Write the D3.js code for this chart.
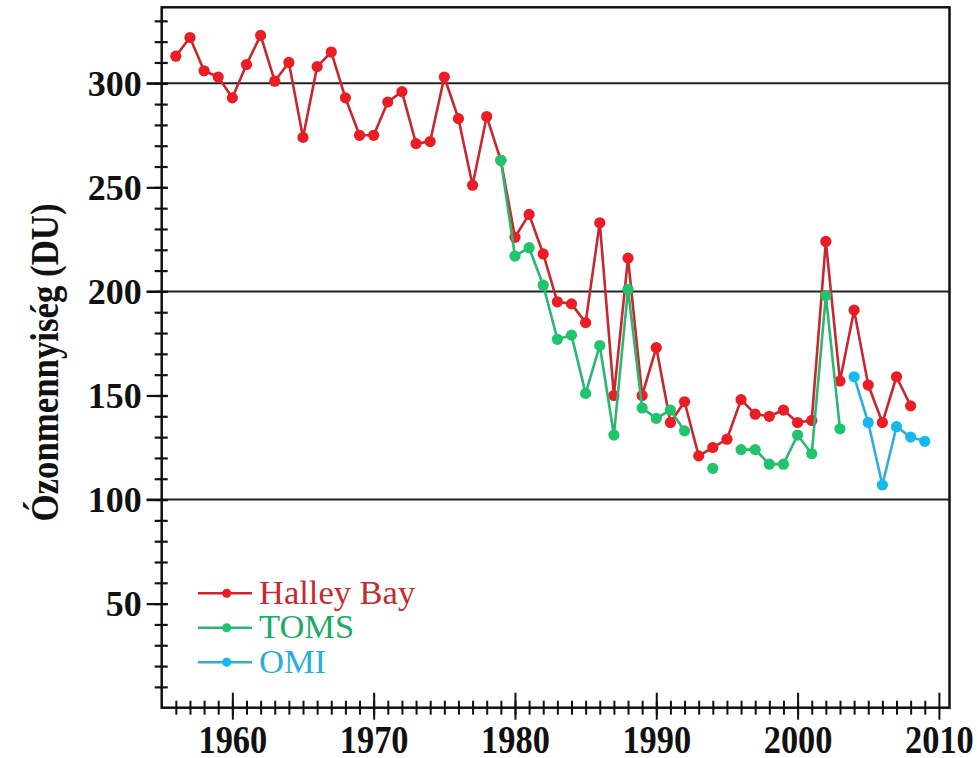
<!DOCTYPE html>
<html>
<head>
<meta charset="utf-8">
<script src="https://cdn.jsdelivr.net/npm/d3@7"></script>
<style>
  body { margin: 0; background: #fff; }
  svg { display: block; }
</style>
</head>
<body>
<script>
// Ozone over Halley Bay, with TOMS and OMI satellite values

const width = 978, height = 758;

// years and values (null = no value that year)
const halleyYears = d3.range(1956, 2009);
const halleyValues = [313, 322, 306, 303, 293, 309, 323, 301, 310, 274,
                      308, 315, 293, 275, 275, 291, 296, 271, 272, 303,
                      283, 251, 284, 263, 226, 237, 218, 195, 194, 185,
                      233, 150, 216, 150, 173, 137, 147, 121, 125, 129,
                      148, 141, 140, 143, 137, 138, 224, 157, 191, 155,
                      137, 159, 145];

const tomsYears = d3.range(1979, 2004);
const tomsValues = [263, 217, 221, 203, 177, 179, 151, 174, 131, 201,
                    144, 139, 143, 133, null, 115, null, 124, 124, 117,
                    117, 131, 122, 198, 134];

const omiYears = d3.range(2004, 2010);
const omiValues = [159, 137, 107, 135, 130, 128];

const yMajorTicks = [50, 100, 150, 200, 250, 300];
const yGridTicks = [100, 200, 300];
const xMajorTicks = [1960, 1970, 1980, 1990, 2000, 2010];

const seriesNames = ["Halley Bay", "TOMS", "OMI"];

// plot box
const boxLeft = 161.7, boxRight = 949.5, boxTop = 7.3, boxBottom = 707.7;

const x = d3.scaleLinear().domain([1955, 2010.75]).range([boxLeft, boxRight]);
const y = d3.scaleLinear().domain([0, 336.5]).range([boxBottom, boxTop]);

const svg = d3.select("body").append("svg")
    .attr("width", width)
    .attr("height", height);

// grid lines at 100, 200, 300
svg.append("g").selectAll("line")
  .data(yGridTicks)
  .join("line")
    .attr("x1", boxLeft - 15)
    .attr("x2", boxRight)
    .attr("y1", d => y(d))
    .attr("y2", d => y(d))
    .attr("stroke", "#222")
    .attr("stroke-width", 2);

// frame
svg.append("rect")
    .attr("x", boxLeft).attr("y", boxTop)
    .attr("width", boxRight - boxLeft).attr("height", boxBottom - boxTop)
    .attr("fill", "none")
    .attr("stroke", "#111")
    .attr("stroke-width", 2.5);

// y axis: minor ticks every 10, major every 50
const yAxisMinor = svg.append("g")
    .attr("transform", "translate(" + boxLeft + ",0)")
    .call(d3.axisLeft(y).tickValues(d3.range(10, 331, 10)).tickSize(7).tickFormat(""));
yAxisMinor.select(".domain").remove();
yAxisMinor.selectAll(".tick line").attr("x2", -7).attr("x1", 6)
    .attr("stroke", "#111").attr("stroke-width", 2.2);

const yAxisMajor = svg.append("g")
    .attr("transform", "translate(" + boxLeft + ",0)")
    .call(d3.axisLeft(y).tickValues(yMajorTicks).tickSize(15).tickPadding(5));
yAxisMajor.select(".domain").remove();
yAxisMajor.selectAll(".tick line").attr("x1", 6)
    .attr("stroke", "#111").attr("stroke-width", 2.2);
yAxisMajor.selectAll(".tick text")
    .attr("fill", "#111")
    .style("font-family", "'Liberation Serif', 'Times New Roman', serif")
    .style("font-weight", "bold")
    .style("font-size", "36px")
    .attr("dy", "0.34em");

// x axis: minor ticks every year, major every 10
const xAxisMinor = svg.append("g")
    .attr("transform", "translate(0," + boxBottom + ")")
    .call(d3.axisBottom(x).tickValues(d3.range(1956, 2010)).tickSize(7).tickFormat(""));
xAxisMinor.select(".domain").remove();
xAxisMinor.selectAll(".tick line").attr("y1", -7)
    .attr("stroke", "#111").attr("stroke-width", 2);

const xAxisMajor = svg.append("g")
    .attr("transform", "translate(0," + boxBottom + ")")
    .call(d3.axisBottom(x).tickValues(xMajorTicks).tickSize(12).tickFormat(d3.format("d")));
xAxisMajor.select(".domain").remove();
xAxisMajor.selectAll(".tick line").attr("y1", -15)
    .attr("stroke", "#111").attr("stroke-width", 2);
xAxisMajor.selectAll(".tick text")
    .attr("y", 0).attr("dy", 0)
    .attr("fill", "#111")
    .attr("transform", "translate(0,45.5) scale(0.86,1)")
    .style("font-family", "'Liberation Serif', 'Times New Roman', serif")
    .style("font-weight", "bold")
    .style("font-size", "40px");

// y axis title
svg.append("text")
    .attr("transform", "translate(58," + ((boxTop + boxBottom) / 2 + 5) + ") rotate(-90) scale(0.87,1)")
    .attr("text-anchor", "middle")
    .attr("fill", "#111")
    .style("font-family", "'Liberation Serif', 'Times New Roman', serif")
    .style("font-weight", "bold")
    .style("font-size", "40px")
    .text("Ózonmennyiség (DU)");

// series
const series = [
  {name: seriesNames[0], years: halleyYears, values: halleyValues, line: "#c8272d", dot: "#ec1c24", text: "#c62a30"},
  {name: seriesNames[1], years: tomsYears, values: tomsValues, line: "#2bb673", dot: "#1fc46c", text: "#20a866"},
  {name: seriesNames[2], years: omiYears, values: omiValues, line: "#2eaedb", dot: "#16b9ee", text: "#27aedd"}
];

const line = d3.line()
    .defined(d => d[1] != null)
    .x(d => x(d[0]))
    .y(d => y(d[1]));

series.forEach(s => {
  const pts = s.years.map((yr, i) => [yr, s.values[i]]);
  const g = svg.append("g");
  g.append("path")
      .datum(pts)
      .attr("d", line)
      .attr("fill", "none")
      .attr("stroke", s.line)
      .attr("stroke-width", 2.6)
      .attr("stroke-linejoin", "round");
  g.selectAll("circle")
    .data(pts.filter(d => d[1] != null))
    .join("circle")
      .attr("cx", d => x(d[0]))
      .attr("cy", d => y(d[1]))
      .attr("r", 5.6)
      .attr("fill", s.dot);
});

// legend
const legend = svg.append("g").selectAll("g")
  .data(series)
  .join("g")
    .attr("transform", (d, i) => "translate(0," + (593.3 + i * 34.5) + ")");

legend.append("line")
    .attr("x1", 198).attr("x2", 252)
    .attr("stroke", d => d.line)
    .attr("stroke-width", 2.6);

legend.append("circle")
    .attr("cx", 226.7).attr("r", 4.5)
    .attr("fill", d => d.dot);

legend.append("text")
    .attr("x", 259)
    .attr("y", 10.5)
    .attr("fill", d => d.text)
    .style("font-family", "'Liberation Serif', 'Times New Roman', serif")
    .style("font-size", "34.5px")
    .text(d => d.name);
</script>
</body>
</html>
